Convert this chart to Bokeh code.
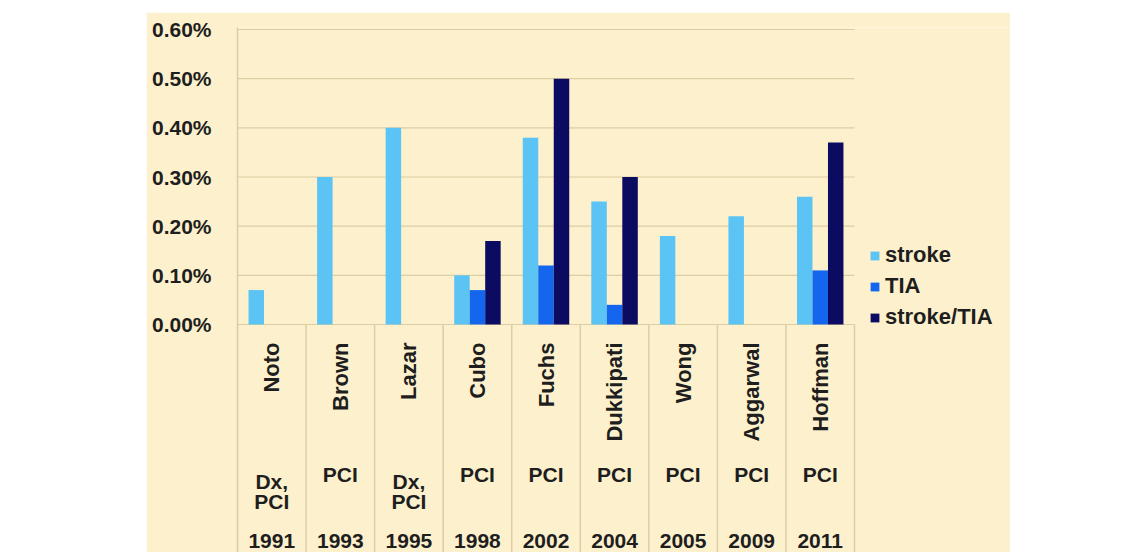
from bokeh.plotting import figure
from bokeh.models import (ColumnDataSource, Range1d, FixedTicker, PrintfTickFormatter,
                          Legend, LegendItem, Spacer)
from bokeh.layouts import column, row
from bokeh.embed import file_html
from bokeh.resources import INLINE
from bokeh.core.properties import value
import math

# ---- data ----
studies = ["Noto", "Brown", "Lazar", "Cubo", "Fuchs", "Dukkipati", "Wong", "Aggarwal", "Hoffman"]
types = ["Dx,\nPCI", "PCI", "Dx,\nPCI", "PCI", "PCI", "PCI", "PCI", "PCI", "PCI"]
years = ["1991", "1993", "1995", "1998", "2002", "2004", "2005", "2009", "2011"]
nan = float("nan")
stroke = [0.07, 0.30, 0.40, 0.10, 0.38, 0.25, 0.18, 0.22, 0.26]
tia = [nan, nan, nan, 0.07, 0.12, 0.04, nan, nan, 0.11]
stroke_tia = [nan, nan, nan, 0.17, 0.50, 0.30, nan, nan, 0.37]
series_names = ["stroke", "TIA", "stroke/TIA"]
y_ticks = [0.0, 0.1, 0.2, 0.3, 0.4, 0.5, 0.6]

# ---- style ----
BG = "#FDF1CD"
GRID = "#DCCDA4"
TXT = "#1E1E1E"
FONT = "Liberation Sans"
colors = ["#5BC4F5", "#1466EE", "#0B0B62"]

n = len(studies)
centers = [i + 0.5 for i in range(n)]
PX = 295.0 / 0.6          # pixels per y unit
CW = 617.0 / n            # pixels per category
FRAME_W = 864 - 91

def py(px_below_zero):
    return -px_below_zero / PX

p = figure(width=864, height=540, output_backend="svg", toolbar_location=None,
           x_range=Range1d(0, FRAME_W / CW), y_range=Range1d(py(228), 0.6 + 2 / PX),
           min_border_left=91, min_border_right=0, min_border_top=15, min_border_bottom=0,
           background_fill_color=BG, border_fill_color=BG, outline_line_color=None)

p.xaxis.visible = False
p.xgrid.visible = False
p.ygrid.visible = False
p.yaxis.ticker = FixedTicker(ticks=y_ticks)
p.yaxis.formatter = PrintfTickFormatter(format="%.2f%%")
p.yaxis.major_label_text_font = FONT
p.yaxis.major_label_text_font_style = "bold"
p.yaxis.major_label_text_font_size = "21px"
p.yaxis.major_label_text_color = TXT
p.yaxis.major_tick_line_color = None
p.yaxis.minor_tick_line_color = None
p.yaxis.major_label_standoff = 20
p.yaxis.axis_line_color = GRID
p.yaxis.axis_line_width = 1.5

# horizontal gridlines across the category area
p.segment(x0=[0] * len(y_ticks), y0=y_ticks, x1=[n] * len(y_ticks), y1=y_ticks,
          line_color=GRID, line_width=1.2)
# dividers below the axis
p.segment(x0=list(range(n + 1)), y0=[0] * (n + 1), x1=list(range(n + 1)), y1=[py(240)] * (n + 1),
          line_color=GRID, line_width=1.5)

bw = 0.226
renderers = []
for k, (vals, col) in enumerate(zip([stroke, tia, stroke_tia], colors)):
    xs = [c + (k - 1) * bw for c in centers]
    src = ColumnDataSource(dict(x=xs, top=vals))
    r = p.vbar(x="x", top="top", bottom=0, width=bw, source=src,
               fill_color=col, line_color=None)
    renderers.append(r)

# category labels
p.text(x=centers, y=[py(18)] * n, text=studies, angle=math.pi / 2,
       text_align="right", text_baseline="middle", text_font=value(FONT),
       text_font_style="bold", text_font_size="22px", text_color=TXT)

single = [t for t in types if "\n" not in t]
p.text(x=[c for c, t in zip(centers, types) if "\n" not in t],
       y=[py(150)] * len(single), text=single,
       text_align="center", text_baseline="middle", text_font=value(FONT),
       text_font_style="bold", text_font_size="21px", text_color=TXT)
multi = [t for t in types if "\n" in t]
p.text(x=[c for c, t in zip(centers, types) if "\n" in t],
       y=[py(167)] * len(multi), text=multi,
       text_align="center", text_baseline="middle", text_font=value(FONT),
       text_font_style="bold", text_font_size="21px", text_color=TXT,
       text_line_height=0.85)

p.text(x=centers, y=[py(216)] * n, text=years,
       text_align="center", text_baseline="middle", text_font=value(FONT),
       text_font_style="bold", text_font_size="21px", text_color=TXT)

legend = Legend(items=[LegendItem(label=nm, renderers=[r]) for nm, r in zip(series_names, renderers)],
                location=(632, 222), label_text_font=FONT, label_text_font_style="bold",
                label_text_font_size="22px", label_text_color=TXT,
                glyph_width=11, glyph_height=11, label_standoff=5, spacing=5, label_height=22,
                background_fill_alpha=0, border_line_color=None, padding=8, margin=0)
p.add_layout(legend)

layout = column(Spacer(height=12), row(Spacer(width=146), p))
open("out.html", "w").write(file_html(layout, INLINE))
